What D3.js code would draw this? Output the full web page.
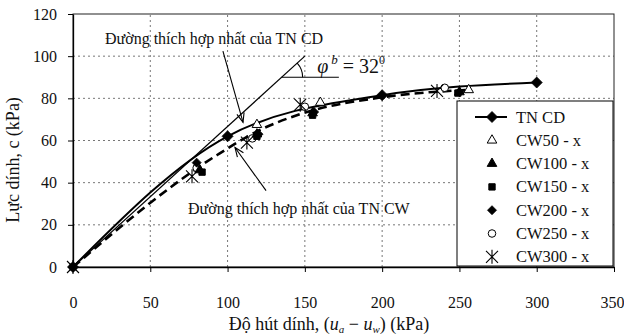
<!DOCTYPE html>
<html>
<head>
<meta charset="utf-8">
<script src="https://cdn.jsdelivr.net/npm/d3@7"></script>
<style>
body { margin: 0; background: #fff; }
</style>
</head>
<body>
<svg id="chart" width="624" height="336"></svg>
<script>
const w = 624;
const h = 336;
const margin = {top: 14, right: 10, bottom: 69, left: 73};
const serif = "'Liberation Serif', 'Times New Roman', serif";

// axis ticks
const xTicks = [0, 50, 100, 150, 200, 250, 300, 350];
const yTicks = [0, 20, 40, 60, 80, 100, 120];

// series (suction kPa, cohesion kPa)
const tnCD  = [[0, 0], [100, 62], [200, 81.5], [300, 87.5]];
const cw50  = [[119, 67.5], [160, 78], [256, 84]];
const cw100 = [[82, 46], [119, 63], [155, 73], [250, 83]];
const cw150 = [[83.5, 45], [119, 62], [155, 72], [249, 82.5]];
const cw200 = [[80, 49.5], [120, 63], [156, 73.5], [250, 83]];
const cw250 = [[0, 0], [80, 47], [116, 61], [150, 76], [240.5, 85]];
const cw300 = [[0, 0], [77, 43], [112.5, 59], [147, 77], [235.5, 83.5]];
// best-fit curve of TN CW (dashed)
const cwFit = [[0, 0], [93, 53], [121, 65], [147, 72.5], [200, 80.5], [255, 84]];
// phi_b reference line
const phiLine = [[0, 0], [150, 100]];
const phiBase = [[135, 90], [172, 90]];

const legendNames = ["TN CD", "CW50 - x", "CW100 - x", "CW150 - x", "CW200 - x", "CW250 - x", "CW300 - x"];

const svg = d3.select("#chart").style("font-family", serif);

const x = d3.scaleLinear().domain([0, 350]).range([margin.left, w - margin.right]);
const y = d3.scaleLinear().domain([0, 120]).range([h - margin.bottom, margin.top]);

// gridlines
svg.append("g")
   .selectAll("line")
   .data(yTicks.slice(1, -1))
   .join("line")
   .attr("x1", x(0)).attr("x2", x(350))
   .attr("y1", d => y(d)).attr("y2", d => y(d))
   .attr("stroke", "#777").attr("stroke-dasharray", "2,3");

svg.append("g")
   .selectAll("line")
   .data(xTicks.slice(1, -1))
   .join("line")
   .attr("x1", d => x(d)).attr("x2", d => x(d))
   .attr("y1", y(0)).attr("y2", y(120))
   .attr("stroke", "#777").attr("stroke-dasharray", "2,3");

// frame
svg.append("rect")
   .attr("x", x(0)).attr("y", y(120))
   .attr("width", x(350) - x(0)).attr("height", y(0) - y(120))
   .attr("fill", "none").attr("stroke", "#222").attr("stroke-width", 1);

// axes
const xAxis = d3.axisBottom(x).tickValues(xTicks).tickSize(5).tickSizeOuter(0).tickPadding(25);
const yAxis = d3.axisLeft(y).tickValues(yTicks).tickSize(5).tickSizeOuter(0).tickPadding(11);

const gx = svg.append("g").attr("transform", `translate(0,${y(0)})`).call(xAxis);
const gy = svg.append("g").attr("transform", `translate(${x(0)},0)`).call(yAxis);
[gx, gy].forEach(g => {
    g.attr("font-family", null);
    g.select(".domain").attr("stroke", "#000").attr("stroke-width", 1.3);
    g.selectAll("text").style("font-family", serif).attr("font-size", 16).attr("fill", "#111");
    g.selectAll(".tick line").attr("stroke", "#000");
});
gx.selectAll(".tick text").filter(d => d === 350).attr("dx", -2);

// axis titles
const xt = svg.append("text")
   .attr("x", 329).attr("y", 330)
   .attr("text-anchor", "middle").attr("font-size", 18).attr("fill", "#111");
xt.append("tspan").text("Độ hút dính, ");
xt.append("tspan").text("(");
xt.append("tspan").attr("font-style", "italic").text("u");
xt.append("tspan").attr("font-style", "italic").attr("font-size", 11).attr("dy", 3).text("a");
xt.append("tspan").attr("dy", -3).text(" \u2212 ");
xt.append("tspan").attr("font-style", "italic").text("u");
xt.append("tspan").attr("font-style", "italic").attr("font-size", 11).attr("dy", 3).text("w");
xt.append("tspan").attr("dy", -3).text(")  (kPa)");

svg.append("text")
   .attr("transform", "translate(19,160) rotate(-90)")
   .attr("text-anchor", "middle").attr("font-size", 18).attr("fill", "#111")
   .text("Lực dính, c (kPa)");

// lines
const line = d3.line().x(d => x(d[0])).y(d => y(d[1]));
const curve = d3.line().x(d => x(d[0])).y(d => y(d[1])).curve(d3.curveMonotoneX);

svg.append("path").attr("d", line(phiLine)).attr("fill", "none").attr("stroke", "#000").attr("stroke-width", 1.2);
svg.append("path").attr("d", line(phiBase)).attr("fill", "none").attr("stroke", "#000").attr("stroke-width", 1.2);

// angle arc
const cx = x(phiBase[0][0]), cy = y(phiBase[0][1]);
const ang = Math.atan2(y(phiLine[1][1]) - y(phiLine[0][1]), x(phiLine[1][0]) - x(phiLine[0][0]));
const arcR = 21;
svg.append("path")
   .attr("d", `M${cx + arcR},${cy} A${arcR},${arcR} 0 0 0 ${cx + arcR * Math.cos(ang)},${cy + arcR * Math.sin(ang)}`)
   .attr("fill", "none").attr("stroke", "#000").attr("stroke-width", 1.1);

const phiText = svg.append("text")
   .attr("x", x(158)).attr("y", y(92))
   .attr("font-size", 20).attr("fill", "#111");
phiText.append("tspan").attr("font-style", "italic").text("\u03c6");
phiText.append("tspan").attr("font-style", "italic").attr("font-size", 13).attr("dy", -9).attr("dx", 3).text("b");
phiText.append("tspan").attr("dy", 9).text(" = 32");
phiText.append("tspan").attr("font-size", 12).attr("dy", -9).text("0");

svg.append("path").attr("d", curve(tnCD)).attr("fill", "none").attr("stroke", "#000").attr("stroke-width", 2);
svg.append("path").attr("d", curve(cwFit)).attr("fill", "none").attr("stroke", "#000")
   .attr("stroke-width", 2.6).attr("stroke-dasharray", "9,5");

// markers
const markerDefs = {
    "TN CD":     {sym: "diamond", size: 5.5, fill: "#000"},
    "CW50 - x":  {sym: d3.symbolTriangle, size: 40, fill: "#fff"},
    "CW100 - x": {sym: d3.symbolTriangle, size: 40, fill: "#000"},
    "CW150 - x": {sym: d3.symbolSquare, size: 40, fill: "#000"},
    "CW200 - x": {sym: "diamond", size: 4.5, fill: "#000"},
    "CW250 - x": {sym: d3.symbolCircle, size: 45, fill: "#fff"},
    "CW300 - x": {sym: "star", size: 6, fill: "none"}
};

function marker(g, name) {
    const m = markerDefs[name];
    const s = m.size;
    if (m.sym === "star") {
        g.append("path")
         .attr("d", `M${-s},${-s}L${s},${s}M${-s},${s}L${s},${-s}M0,${-s - 1}L0,${s + 1}`)
         .attr("stroke", "#000").attr("stroke-width", 1.1).attr("fill", "none");
    } else if (m.sym === "diamond") {
        g.append("path")
         .attr("d", `M0,${-s}L${s},0L0,${s}L${-s},0Z`)
         .attr("fill", m.fill).attr("stroke", "#000").attr("stroke-width", 0.8);
    } else {
        g.append("path")
         .attr("d", d3.symbol().type(m.sym).size(s)())
         .attr("fill", m.fill).attr("stroke", "#000").attr("stroke-width", 1);
    }
}

const seriesList = [
    ["CW250 - x", cw250], ["CW50 - x", cw50], ["CW100 - x", cw100], ["CW150 - x", cw150],
    ["CW200 - x", cw200], ["CW300 - x", cw300], ["TN CD", tnCD]
];
seriesList.forEach(([name, pts]) => {
    svg.append("g")
       .selectAll("g")
       .data(pts)
       .join("g")
       .attr("transform", d => `translate(${x(d[0])},${y(d[1])})`)
       .each(function() { marker(d3.select(this), name); });
});

// annotations with arrows
function arrow(from, to) {
    const x1 = x(from[0]), y1 = y(from[1]), x2 = x(to[0]), y2 = y(to[1]);
    const a = Math.atan2(y2 - y1, x2 - x1), L = 10, spread = 0.38;
    svg.append("line").attr("x1", x1).attr("y1", y1).attr("x2", x2).attr("y2", y2)
       .attr("stroke", "#000").attr("stroke-width", 1.1);
    svg.append("path")
       .attr("d", `M${x2 - L * Math.cos(a - spread)},${y2 - L * Math.sin(a - spread)}L${x2},${y2}L${x2 - L * Math.cos(a + spread)},${y2 - L * Math.sin(a + spread)}`)
       .attr("fill", "none").attr("stroke", "#000").attr("stroke-width", 1.1);
}

svg.append("text").attr("x", x(20.7)).attr("y", y(105.7))
   .attr("font-size", 16).attr("fill", "#111").text("Đường thích hợp nhất của TN CD");
arrow([97, 102.4], [110, 68.6]);

svg.append("text").attr("x", x(74.4)).attr("y", y(25.2))
   .attr("font-size", 16).attr("fill", "#111").text("Đường thích hợp nhất của TN CW");
arrow([124.9, 36.2], [104.8, 56.7]);

// legend
const lg = svg.append("g");
lg.append("rect")
  .attr("x", 457).attr("y", 101).attr("width", 156).attr("height", 165)
  .attr("fill", "#fff").attr("stroke", "#000").attr("stroke-width", 1);

legendNames.forEach((name, i) => {
    const ly = 117 + i * 23.3;
    const item = lg.append("g");
    if (name === "TN CD") {
        item.append("line").attr("x1", 475).attr("x2", 507).attr("y1", ly).attr("y2", ly)
            .attr("stroke", "#000").attr("stroke-width", 2);
    }
    marker(item.append("g").attr("transform", `translate(492,${ly})`), name);
    item.append("text").attr("x", 516).attr("y", ly + 5.5)
        .attr("font-size", 16.5).attr("fill", "#111").text(name);
});
</script>
</body>
</html>
